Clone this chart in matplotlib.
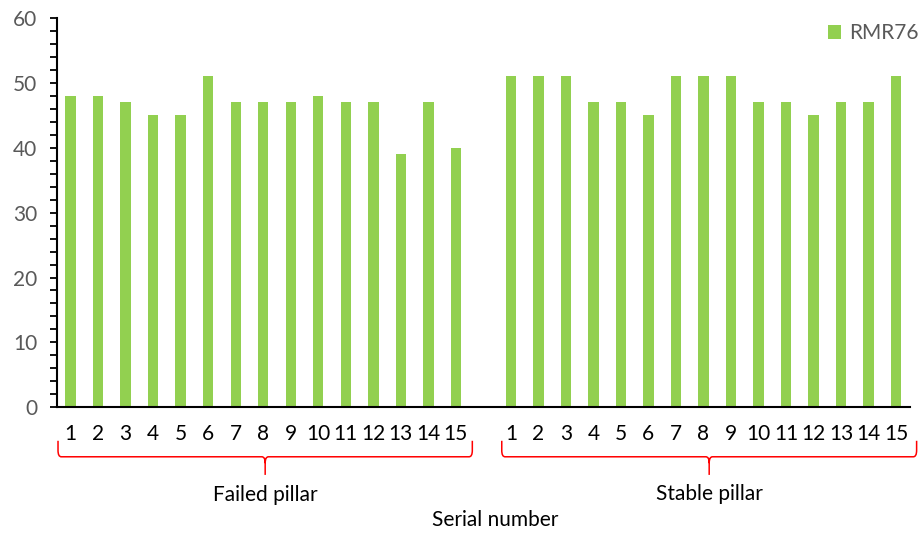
import matplotlib.pyplot as plt
import numpy as np
from matplotlib.path import Path
from matplotlib.patches import PathPatch
from matplotlib.transforms import blended_transform_factory
from matplotlib.ticker import MultipleLocator

plt.rcParams['font.family'] = ['Lato', 'DejaVu Sans']

failed = [48, 48, 47, 45, 45, 51, 47, 47, 47, 48, 47, 47, 39, 47, 40]
stable = [51, 51, 51, 47, 47, 45, 51, 51, 51, 47, 47, 45, 47, 47, 51]
serial = [str(i) for i in range(1, 16)]
groupNames = ['Failed pillar', 'Stable pillar']
seriesName = 'RMR76'
barColor = '#92D050'

# one empty slot between the two groups
values = failed + [np.nan] + stable
labels = serial + [''] + serial
x = np.arange(len(values))

fig = plt.figure(figsize=(9.18, 5.33), dpi=100)
ax = fig.add_axes([0.062, 0.236, 0.929, 0.730])

ax.bar(x, values, width=0.38, color=barColor, label=seriesName)

ax.set_xlim(-0.5, len(values) - 0.5)
ax.set_ylim(0, 60)
ax.yaxis.set_major_locator(MultipleLocator(10))
ax.yaxis.set_minor_locator(MultipleLocator(2))
ax.set_xticks(x)
ax.set_xticklabels(labels, fontsize=15, color='black')
ax.tick_params(axis='x', length=0, pad=12)
ax.tick_params(axis='y', which='both', direction='out', length=5, width=1.3,
               labelsize=15, labelcolor='#595959', pad=9)
for side in ['top', 'right']:
    ax.spines[side].set_visible(False)
ax.spines['left'].set_linewidth(1.5)
ax.spines['bottom'].set_linewidth(1.5)

leg = ax.legend(loc='upper right', bbox_to_anchor=(1.032, 1.035), frameon=False,
                fontsize=15, handlelength=0.65, handleheight=0.65, handletextpad=0.35)
for t in leg.get_texts():
    t.set_color('#595959')

# curly braces under each group
trans = blended_transform_factory(ax.transData, fig.transFigure)

def drawBrace(x0, x1, yTop=0.173, yMid=0.143, yTip=0.109, r=0.12, dy=0.012):
    xm = (x0 + x1) / 2
    verts = [
        (x0, yTop), (x0, yMid + dy), (x0, yMid), (x0 + r, yMid),
        (xm - r, yMid), (xm, yMid), (xm, yMid - dy),
        (xm, yTip), (xm, yMid - dy), (xm, yMid), (xm + r, yMid),
        (x1 - r, yMid), (x1, yMid), (x1, yMid + dy), (x1, yTop),
    ]
    codes = [
        Path.MOVETO, Path.LINETO, Path.CURVE3, Path.CURVE3,
        Path.LINETO, Path.CURVE3, Path.CURVE3,
        Path.LINETO, Path.MOVETO, Path.CURVE3, Path.CURVE3,
        Path.LINETO, Path.CURVE3, Path.CURVE3, Path.LINETO,
    ]
    patch = PathPatch(Path(verts, codes), transform=trans, fill=False,
                      edgecolor='red', linewidth=1.1, clip_on=False)
    fig.add_artist(patch)
    return xm

m1 = drawBrace(-0.46, 14.6)
m2 = drawBrace(15.67, 30.75)
fig.text(m1, 0.071, groupNames[0], transform=trans, ha='center', va='center', fontsize=15)
fig.text(m2, 0.073, groupNames[1], transform=trans, ha='center', va='center', fontsize=15)
fig.text(0.539, 0.024, 'Serial number', ha='center', va='center', fontsize=15)

plt.savefig('out.png', dpi=100)
